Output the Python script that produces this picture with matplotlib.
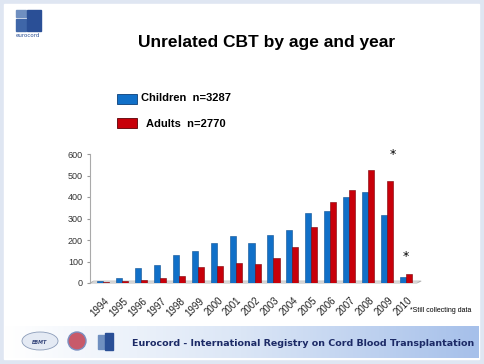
import numpy as np
import matplotlib

matplotlib.use("Agg")

import matplotlib.pyplot as plt
from matplotlib.colors import LinearSegmentedColormap
from matplotlib.patches import Rectangle, Ellipse, Circle, Polygon

years = ["1994", "1995", "1996", "1997", "1998", "1999", "2000", "2001", "2002",
         "2003", "2004", "2005", "2006", "2007", "2008", "2009", "2010"]
children = [10, 25, 70, 85, 130, 147, 185, 217, 185, 222, 245, 325, 337, 398, 422, 315, 30]
adults = [5, 8, 15, 25, 33, 73, 80, 93, 90, 115, 168, 260, 378, 432, 525, 475, 42]
yticks = [0, 100, 200, 300, 400, 500, 600]

BLUE = "#1170c8"
RED = "#c8000a"
W, H = 484, 364
ARIAL = ["Liberation Sans", "DejaVu Sans"]

fig = plt.figure(figsize=(W / 100, H / 100), dpi=100)

# slide background + decorations in pixel coordinates
bg = fig.add_axes([0, 0, 1, 1])
bg.set_xlim(0, W)
bg.set_ylim(H, 0)
bg.axis("off")
bg.add_patch(Rectangle((0, 0), W, H, color="#dfe6f2", zorder=0))
bg.add_patch(Rectangle((4, 4), W - 9, H - 9, color="white", zorder=1))
band = LinearSegmentedColormap.from_list("band", ["#ffffff", "#dbe6f6", "#a6c0ea"])
bg.imshow(np.linspace(0, 1, 200)[None, :], extent=(4, W - 5, 358, 326),
          cmap=band, aspect="auto", zorder=2)

# eurocord logo (top-left)
bg.add_patch(Rectangle((16, 10), 10, 7, color="#6f8fc0", zorder=3))
bg.add_patch(Rectangle((16, 19), 10, 12, color="#3f66a8", zorder=3))
bg.add_patch(Rectangle((27, 10), 14, 21, color="#2a4f96", zorder=3))
bg.text(28, 37, "eurocord", fontsize=4, color="#2a4f96", ha="center", zorder=3)

# bottom logos
bg.add_patch(Ellipse((40, 341), 36, 18, facecolor="#e4eaf4", edgecolor="#8a9bb8", lw=0.6, zorder=3))
bg.text(40, 342, "EBMT", fontsize=3.5, color="#33447a", ha="center", va="center",
        fontweight="bold", style="italic", zorder=4)
bg.add_patch(Circle((77, 341), 9, facecolor="#c85a6a", edgecolor="#7a8fc0", lw=1, zorder=3))
bg.add_patch(Rectangle((98, 335), 6, 14, color="#6f8fc0", zorder=3))
bg.add_patch(Rectangle((105, 333), 8, 17, color="#2a4f96", zorder=3))

bg.text(267, 43, "Unrelated CBT by age and year", fontsize=12.5, fontweight="bold",
        family=ARIAL, ha="center", va="center", color="black", zorder=3)

bg.add_patch(Rectangle((117, 94), 20, 10, facecolor=BLUE, edgecolor="#0b3f78", lw=0.6, zorder=3))
bg.text(141, 98, "Children  n=3287", fontsize=8, fontweight="bold", family=ARIAL,
        va="center", zorder=3)
bg.add_patch(Rectangle((117, 118), 20, 10, facecolor=RED, edgecolor="#5a0005", lw=0.6, zorder=3))
bg.text(146, 124, "Adults  n=2770", fontsize=8, fontweight="bold", family=ARIAL,
        va="center", zorder=3)

bg.text(471, 311, "*Still collecting data", fontsize=5, family=ARIAL, ha="right",
        va="center", zorder=3)
bg.text(474, 343, "Eurocord - International Registry on Cord Blood Transplantation",
        fontsize=6.8, fontweight="bold", ha="right", va="center", color="#1c2a66", zorder=3)

# chart
ax = fig.add_axes([90 / W, 1 - 283 / H, (417 - 90) / W, (283 - 154) / H])
ax.patch.set_alpha(0)
x = np.arange(len(years))
bw = 0.32
ax.bar(x - bw, children, width=bw, align="edge", color=BLUE, edgecolor="#0d4f92", lw=0.4, zorder=3)
ax.bar(x, adults, width=bw, align="edge", color=RED, edgecolor="#7a0006", lw=0.4, zorder=3)

# flat 3D-like floor under the bars
ax.add_patch(Polygon([(-0.69, 0), (len(years) - 0.42, 0), (len(years) - 0.2, 9), (-0.5, 9)],
                     closed=True, facecolor="#f2f2f2", edgecolor="#b0b0b0", lw=0.6,
                     zorder=1, clip_on=False))

ax.set_ylim(0, 600)
ax.set_xlim(-0.69, len(years) - 0.42)
ax.set_yticks(yticks)
ax.set_yticklabels([str(v) for v in yticks], fontsize=6.5, color="#333333", family=ARIAL)
ax.set_xticks(x + 0.05)
ax.set_xticklabels(years, rotation=45, ha="right", va="top", rotation_mode="anchor",
                   fontsize=7, color="#222222", family=ARIAL)
ax.tick_params(axis="x", length=0, pad=9)
ax.tick_params(axis="y", length=2, color="#999999", pad=3)
for side in ("top", "right", "bottom"):
    ax.spines[side].set_visible(False)
ax.spines["left"].set_color("#aaaaaa")
ax.spines["left"].set_linewidth(0.8)

ax.text(15.3, 600, "*", fontsize=9, ha="center", va="center")
ax.text(16.0, 125, "*", fontsize=9, ha="center", va="center")

fig.savefig("out.png", dpi=100)
